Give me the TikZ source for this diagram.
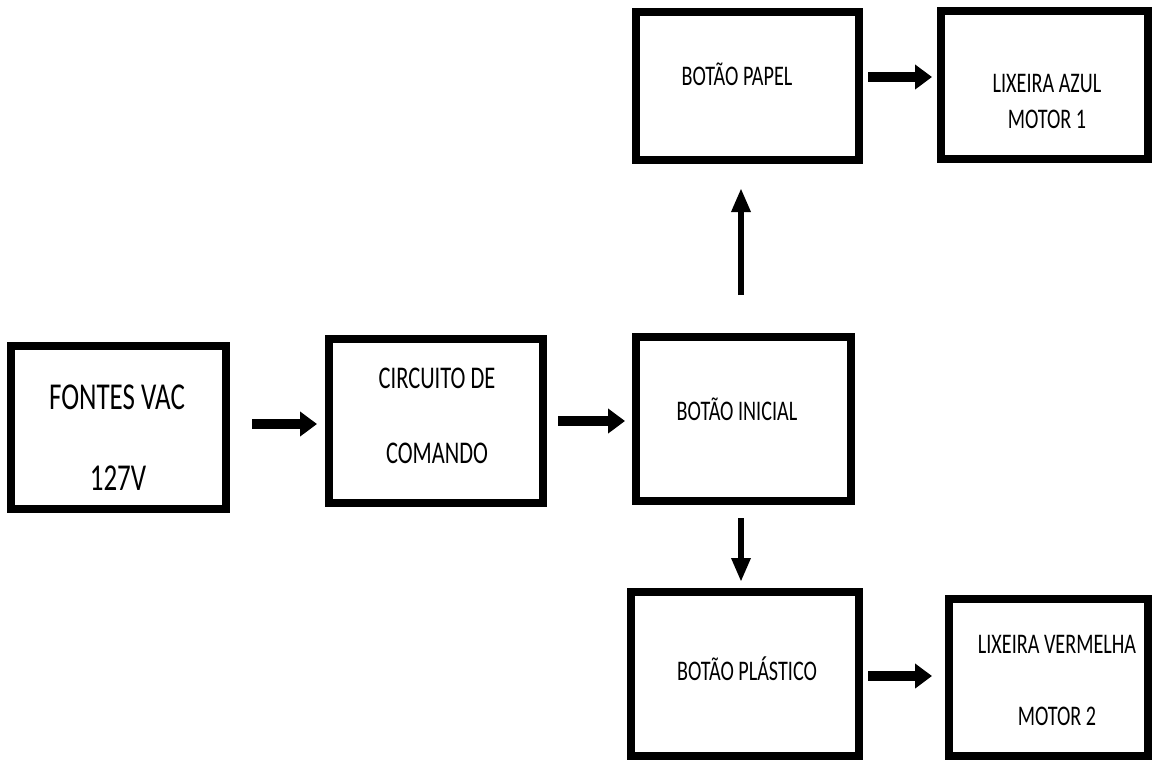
\documentclass[tikz,border=0pt]{standalone}
\usepackage{fontspec}
\setmainfont{Carlito}[FakeStretch=0.71]
\usetikzlibrary{arrows.meta}
\begin{document}
\begin{tikzpicture}[x=0.5pt,y=-0.5pt,
  blk/.style={draw=black, line width=4pt, rectangle, inner sep=0pt, outer sep=0pt},
  lbl/.style={anchor=base, inner sep=0pt, text=black},
  big/.style={font=\fontsize{19pt}{22pt}\selectfont},
  mid/.style={font=\fontsize{15.8pt}{19pt}\selectfont},
  sml/.style={font=\fontsize{14.2pt}{17pt}\selectfont},
  harr/.style={line width=4.8pt, -{Triangle[length=8.5pt,width=12pt]}},
  varr/.style={line width=3pt, -{Triangle[length=12pt,width=9pt]}}
]
\useasboundingbox (0,0) rectangle (1156,762);

% boxes
\node[blk, minimum width=107.5pt, minimum height=81.5pt] (fontes) at (118.5,427.5) {};
\node[blk, minimum width=107pt, minimum height=82pt] (circ) at (436,421) {};
\node[blk, minimum width=107.5pt, minimum height=82pt] (inicial) at (743.5,419) {};
\node[blk, minimum width=111.5pt, minimum height=74pt] (papel) at (747.5,86) {};
\node[blk, minimum width=103.5pt, minimum height=74pt] (azul) at (1044.5,85) {};
\node[blk, minimum width=114pt, minimum height=82pt] (plast) at (745,674) {};
\node[blk, minimum width=99.5pt, minimum height=78.5pt] (verm) at (1048.5,677.5) {};

% labels
\node[lbl, big] (fontes-a) at (117,409) {FONTES VAC};
\node[lbl, big] (fontes-b) at (118,490) {127V};
\node[lbl, mid] (circ-a) at (437,388) {CIRCUITO DE};
\node[lbl, mid] (circ-b) at (437,463) {COMANDO};
\node[lbl, sml] (inicial-t) at (737,420) {BOTÃO INICIAL};
\node[lbl, sml] (papel-t) at (737,85) {BOTÃO PAPEL};
\node[lbl, sml] (azul-a) at (1047,92) {LIXEIRA AZUL};
\node[lbl, sml] (azul-b) at (1047,128) {MOTOR 1};
\node[lbl, sml] (plast-t) at (747,680) {BOTÃO PLÁSTICO};
\node[lbl, sml] (verm-a) at (1057,653) {LIXEIRA VERMELHA};
\node[lbl, sml] (verm-b) at (1057,725) {MOTOR 2};

% connectors
\draw[harr, shorten <=13pt, shorten >=6pt] ([yshift=-1.5pt]fontes.east |- circ.west) -- ([yshift=-1.5pt]circ.west);
\draw[harr, shorten <=7.5pt, shorten >=5.5pt] (circ.east) -- (circ.east -| inicial.west);
\draw[harr, shorten <=4.5pt, shorten >=4.5pt] ([yshift=4.5pt]papel.east) -- ([yshift=4.5pt]papel.east -| azul.west);
\draw[harr, shorten <=4.5pt, shorten >=8.5pt] ([yshift=-1pt]plast.east) -- ([yshift=-1pt]plast.east -| verm.west);
\draw[varr, shorten <=21pt, shorten >=14pt] ([xshift=-1.25pt]inicial.north) -- ([xshift=-1.25pt]inicial.north |- papel.south);
\draw[varr, shorten <=8.5pt, shorten >=5pt] ([xshift=-1.25pt]inicial.south) -- ([xshift=-1.25pt]inicial.south |- plast.north);
\end{tikzpicture}
\end{document}
